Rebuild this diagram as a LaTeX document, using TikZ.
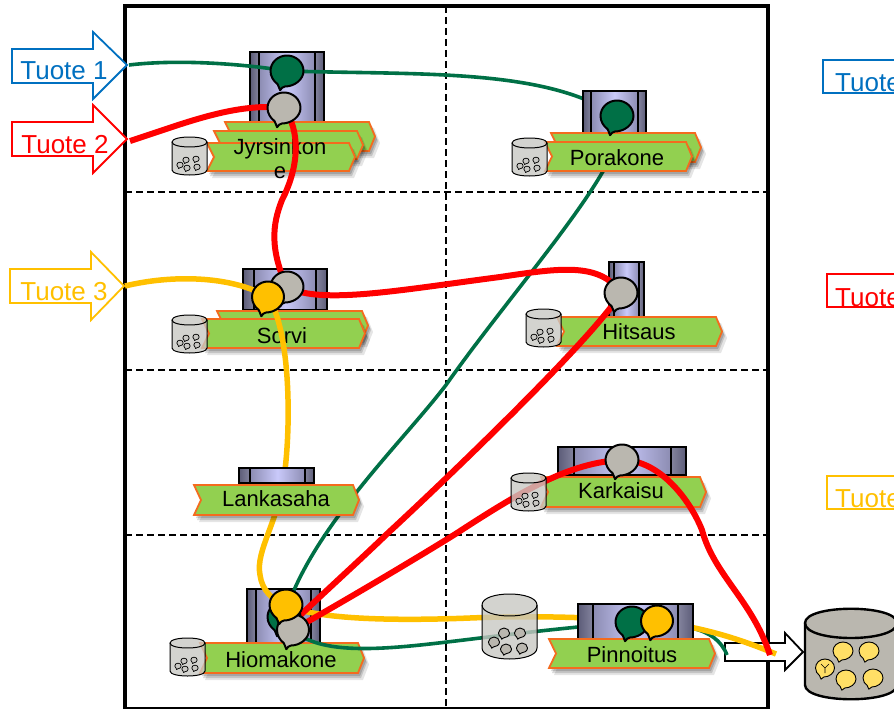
\documentclass[tikz,border=0pt]{standalone}
\usepackage{fontspec}
\setmainfont{Liberation Sans}
\definecolor{cblue}{HTML}{0070C0}
\definecolor{cred}{HTML}{FF0000}
\definecolor{cgold}{HTML}{FFC000}
\definecolor{cgreen}{HTML}{007046}
\definecolor{cgray}{HTML}{BAB7AF}
\definecolor{cribbon}{HTML}{92D050}
\definecolor{corange}{HTML}{F46B1E}
\definecolor{cbarrel}{HTML}{C9C8C4}
\definecolor{cpale}{HTML}{FFDF66}
\definecolor{mcmid}{HTML}{8C8CB2}
\definecolor{mclight}{HTML}{C9C9FA}
\definecolor{mcdark}{HTML}{5C5C78}
\definecolor{mcbar}{HTML}{84849E}
\tikzset{
  frameline/.style={line width=3.5pt,draw=black},
  dashline/.style={line width=1.6pt,draw=black,dash pattern=on 7pt off 4pt},
  blockarrow/.style={line width=1.8pt,fill=white,line join=miter},
  tuotetext/.style={font=\fontsize{26}{28}\selectfont,anchor=base,inner sep=0pt},
  ribbontext/.style={font=\fontsize{22}{24}\selectfont,anchor=base,inner sep=0pt,text=black},
  flow/.style={line cap=butt},
  greenflow/.style={flow,draw=cgreen,line width=3.6pt},
  redflow/.style={flow,draw=cred,line width=6pt},
  goldflow/.style={flow,draw=cgold,line width=5.5pt},
  ribbonshape/.style={fill=cribbon,draw=corange,line width=1.8pt,line join=miter},
  bubbleline/.style={draw=black,line join=round}
}
\newcommand{\ribbonpath}[4]{(#1,#2) -- (#3-6,#2) -- (#3,{(#2+#4)/2}) -- (#3-6,#4) -- (#1,#4) -- (#1+7,{(#2+#4)/2}) -- cycle}
\newcommand{\ribbon}[4]{%
  \fill[black,opacity=.10] \ribbonpath{#1+5}{#2+6}{#3+5}{#4+7};
  \fill[black,opacity=.14] \ribbonpath{#1+3}{#2+4}{#3+3}{#4+5};
  \fill[black,opacity=.16] \ribbonpath{#1+2}{#2+3}{#3+2}{#4+3};
  \path[ribbonshape] \ribbonpath{#1}{#2}{#3}{#4};
}
\newcommand{\machine}[6]{%
  \shade[left color=mcmid,right color=mcmid,middle color=mclight] (#5,#2) rectangle (#6,#4);
  \shade[left color=mcdark,right color=mcbar] (#1,#2) rectangle (#5,#4);
  \shade[left color=mcbar,right color=mcdark] (#6,#2) rectangle (#3,#4);
  \draw[line width=1.1pt] (#1,#2) rectangle (#3,#4) (#5,#2) -- (#5,#4) (#6,#2) -- (#6,#4);
}
\newcommand{\bubble}[6]{% x y rx ry fill lw
  \begin{scope}[shift={(#1,#2)},xscale=#3,yscale=#4]
  \path[bubbleline,fill=#5,line width=#6pt] (-0.12,1.0) .. controls (0.45,1.0) and (1,0.55) .. (1,0)
    .. controls (1,-0.55) and (0.55,-1) .. (0,-1) .. controls (-0.55,-1) and (-1,-0.55) .. (-1,0)
    .. controls (-1,0.35) and (-0.82,0.65) .. (-0.58,0.84) .. controls (-0.52,0.95) and (-0.47,1.1) .. (-0.42,1.24)
    .. controls (-0.34,1.1) and (-0.25,1.02) .. (-0.12,1.0) -- cycle;
  \end{scope}
}
\newcommand{\barrelbody}[5]{% x1 y1 x2 y2 ry
  \path[fill=cbarrel,fill opacity=.8,draw=black,line width=1pt]
    (#1,#2+#5) -- (#1,#4-#5) .. controls (#1,#4+#5/3) and (#3,#4+#5/3) .. (#3,#4-#5) -- (#3,#2+#5)
    .. controls (#3,#2-#5/3) and (#1,#2-#5/3) .. (#1,#2+#5) -- cycle;
  \draw[line width=1pt] (#1,#2+#5) .. controls (#1,#2+#5*2.33) and (#3,#2+#5*2.33) .. (#3,#2+#5);
}
\newcommand{\smallbarrel}[2]{% x y of top left
  \barrelbody{#1}{#2}{#1+35}{#2+38}{5}
  \bubble{#1+24}{#2+22}{3.2}{2.9}{cbarrel}{.7}
  \bubble{#1+14}{#2+23}{3.2}{2.9}{cbarrel}{.7}
  \bubble{#1+8}{#2+28}{3.2}{2.9}{cbarrel}{.7}
  \bubble{#1+15}{#2+31}{3.2}{2.9}{cbarrel}{.7}
  \bubble{#1+25}{#2+30}{3.2}{2.9}{cbarrel}{.7}
}
\begin{document}
\begin{tikzpicture}[x=1pt,y=-1pt]
\useasboundingbox (0,0) rectangle (894,709);
\clip (0,0) rectangle (894,709);
\fill[white] (0,0) rectangle (894,709);

% frame
\draw[dashline] (125,192) -- (768,192) (125,370) -- (768,370) (125,535) -- (768,535);
\draw[dashline] (446,6) -- (446,709);
\draw[frameline] (768,709) -- (768,6) -- (125,6) -- (125,709);
\draw[black,line width=1.5pt] (125,708) -- (768,708);

% input arrows
\path[blockarrow,draw=cblue] (12,49) -- (93,49) -- (93,32) -- (127,65) -- (93,99) -- (93,83) -- (12,83) -- cycle;
\node[tuotetext,text=cblue] (tu1) at (64,79) {Tuote 1};
\path[blockarrow,draw=cred] (12,122) -- (93,122) -- (93,105) -- (127,139) -- (93,173) -- (93,156) -- (12,156) -- cycle;
\node[tuotetext,text=cred] (tu2) at (65,153) {Tuote 2};
\path[blockarrow,draw=cgold] (10,269) -- (91,269) -- (91,252) -- (124,286) -- (91,320) -- (91,303) -- (10,303) -- cycle;
\node[tuotetext,text=cgold] (tu3) at (64,300) {Tuote 3};

% legend on the right
\draw[cblue,line width=1.6pt] (900,60) -- (823,60) -- (823,93) -- (900,93);
\node[tuotetext,anchor=base west,text=cblue] (lg1) at (835,92) {Tuote};
\draw[cred,line width=2pt] (900,274) -- (827,274) -- (827,307) -- (900,307);
\node[tuotetext,anchor=base west,text=cred] (lg2) at (835,306) {Tuote};
\draw[cgold,line width=2pt] (900,476) -- (827,476) -- (827,509) -- (900,509);
\node[tuotetext,anchor=base west,text=cgold] (lg3) at (835,507) {Tuote};

% connection points
\coordinate (a1) at (129,65);
\coordinate (a2) at (130,141);
\coordinate (a3) at (125,286);
\coordinate (jG) at (287,71);
\coordinate (jS) at (284,108);
\coordinate (pG) at (617,116);
\coordinate (sS) at (287,287);
\coordinate (sY) at (268,297);
\coordinate (hS) at (621,293);
\coordinate (kS) at (622,460);
\coordinate (oG) at (284,617);
\coordinate (oY) at (286,605);
\coordinate (oS) at (293,630);
\coordinate (oR) at (291,624);
\coordinate (nG) at (632,622);
\coordinate (nY) at (657,621);
\coordinate (out) at (770,655);

% machines under the flows
\machine{250}{52}{324}{131}{259}{315}
\ribbon{225}{122}{375}{151}
\ribbon{214}{131}{363}{159}
\ribbon{207}{143}{355}{171}
\node[ribbontext] (tJyr) at (280,154) {Jyrsinkon};
\node[ribbontext] (tJyr2) at (280,178) {e};

\machine{243}{269}{327}{310}{254}{316}
\ribbon{217}{311}{368}{340}
\ribbon{202}{319}{365}{348}
\node[ribbontext] (tSor) at (282,343) {Sorvi};

\machine{609}{262}{644}{317}{614}{639}
\ribbon{557}{317}{722}{346}
\node[ribbontext] (tHit) at (639,339) {Hitsaus};

\machine{558}{447}{686}{475}{574}{671}
\ribbon{541}{477}{706}{507}
\node[ribbontext] (tKar) at (621,498) {Karkaisu};

\machine{247}{589}{320}{643}{256}{311}
\ribbon{200}{643}{364}{673}
\node[ribbontext] (tHio) at (281,667) {Hiomakone};

% white output arrow
\path[blockarrow,draw=black] (725,643) -- (785,643) -- (785,633) -- (803,652) -- (785,670) -- (785,661) -- (725,661) -- cycle;

% green flows
\draw[greenflow] (a1) .. controls (170,60) and (230,62) .. (jG) .. controls (420,75) and (545,68) .. (pG);
\draw[greenflow] (pG) .. controls (640,150) and (520,280) .. (446,385) .. controls (400,445) and (310,530) .. (oG);
\draw[greenflow] (oS) .. controls (320,655) and (380,650) .. (447,642) .. controls (490,637) and (540,630) .. (nG);
\draw[greenflow] (nG) .. controls (680,625) and (715,625) .. (727,655);

% gold flows
\draw[goldflow] (a3) .. controls (170,275) and (230,275) .. (sY) .. controls (290,330) and (291,420) .. (285,470)
  .. controls (280,520) and (255,550) .. (260,575) .. controls (262,590) and (272,600) .. (oY);
\draw[goldflow] (oY) .. controls (320,622) and (420,620) .. (470,618) .. controls (520,616) and (560,616) .. (nY);
\draw[goldflow] (nY) .. controls (700,628) and (730,635) .. (776,654);

% red flows
\draw[redflow] (a2) .. controls (180,125) and (235,102) .. (jS);
\draw[redflow] (jS) .. controls (300,130) and (300,165) .. (282,200) .. controls (272,225) and (270,250) .. (sS);
\draw[redflow] (sS) .. controls (320,305) and (400,290) .. (500,277) .. controls (560,268) and (600,262) .. (hS);
\draw[redflow] (hS) .. controls (592,340) and (440,485) .. (388,533) .. controls (360,560) and (330,587) .. (oR);
\draw[redflow] (oS) .. controls (360,592) and (430,550) .. (457,533) .. controls (520,492) and (570,462) .. (kS);
\draw[redflow] (kS) .. controls (660,460) and (690,500) .. (702,530) .. controls (714,575) and (752,600) .. (out);

% machines and ribbons over the flows
\machine{583}{91}{646}{134}{591}{638}
\ribbon{551}{133}{701}{162}
\ribbon{545}{142}{692}{171}
\node[ribbontext] (tPor) at (617,165) {Porakone};

\machine{239}{468}{314}{483}{250}{305}
\ribbon{194}{485}{359}{515}
\node[ribbontext] (tLan) at (276,506) {Lankasaha};

\machine{578}{604}{693}{639}{593}{678}
\ribbon{549}{639}{715}{668}
\node[ribbontext] (tPin) at (632,662) {Pinnoitus};

% bubbles
\bubble{287}{71}{16.5}{15.5}{cgreen}{2}
\bubble{284}{108}{16.5}{15.5}{cgray}{2}
\bubble{617}{116}{16.5}{15.5}{cgreen}{2}
\bubble{287}{287}{16.5}{15.5}{cgray}{2}
\bubble{268}{297}{16}{15.5}{cgold}{2}
\bubble{621}{293}{16.5}{15.5}{cgray}{2}
\bubble{622}{460}{16.5}{15.5}{cgray}{2}
\bubble{284}{617}{16.5}{15.5}{cgreen}{2}
\bubble{293}{630}{16}{15.5}{cgray}{2}
\bubble{286}{605}{16.5}{15.5}{cgold}{2}
\bubble{632}{622}{16.5}{15.5}{cgreen}{2}
\bubble{657}{621}{16}{15.5}{cgold}{2}

% small stock barrels
\smallbarrel{172}{137}
\smallbarrel{512}{138}
\smallbarrel{172}{315}
\smallbarrel{526}{309}
\smallbarrel{511}{473}
\smallbarrel{170}{638}

% middle stock barrel
\barrelbody{482}{594}{537}{659}{11}
\bubble{504}{633}{5.5}{5}{cgray}{.9}
\bubble{520}{633}{5.5}{5}{cgray}{.9}
\bubble{494}{642}{5.5}{5}{cgray}{.9}
\bubble{506}{649}{5.5}{5}{cgray}{.9}
\bubble{522}{648}{5.5}{5}{cgray}{.9}

% finished goods barrel
\path[fill=cgray,draw=black,line width=2.4pt] (805,623) -- (805,685) .. controls (805,704) and (897,704) .. (897,685) -- (897,623)
  .. controls (897,604) and (805,604) .. (805,623) -- cycle;
\draw[line width=2.4pt] (805,623) .. controls (805,643) and (897,643) .. (897,623);
\bubble{843}{651}{10}{9}{cpale}{.9}
\bubble{869}{651}{10}{9}{cpale}{.9}
\bubble{846}{679}{10}{9}{cpale}{.9}
\bubble{873}{678}{10}{9}{cpale}{.9}
\bubble{825}{668}{9.5}{9}{cpale}{.9}
\draw[line width=.6pt] (825,668) -- (825,673) (825,668) -- (821,664) (825,668) -- (829,664);
\end{tikzpicture}
\end{document}
